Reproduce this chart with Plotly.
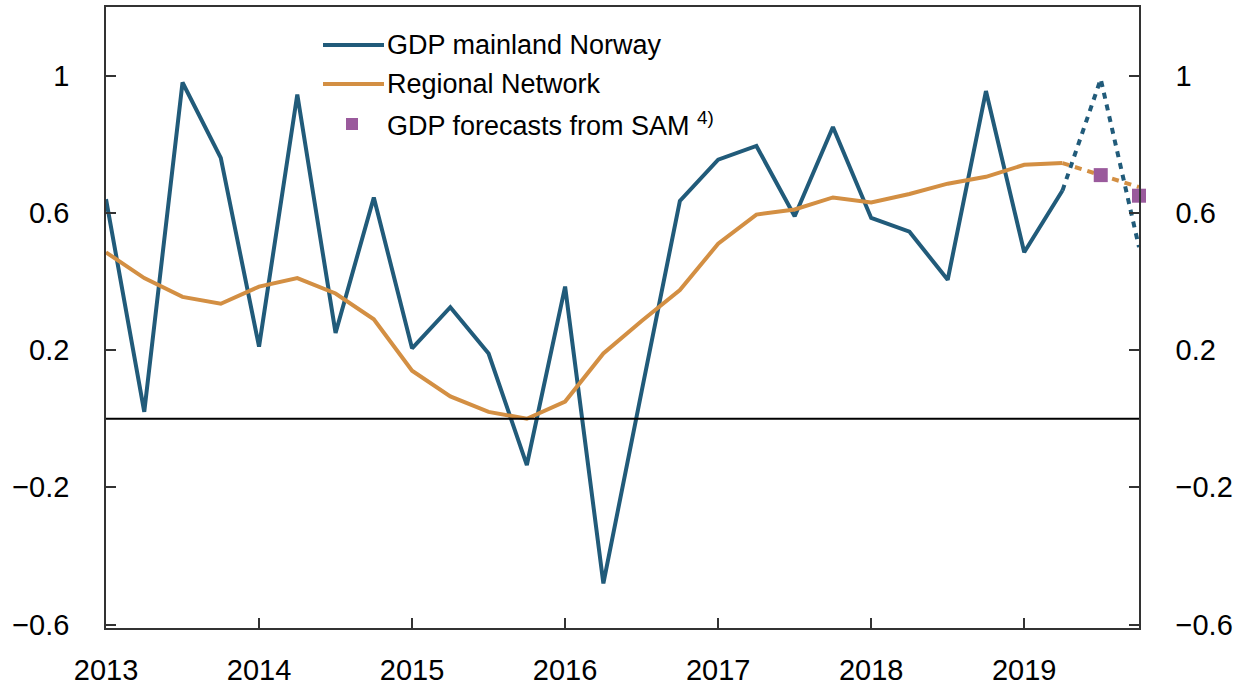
import plotly.graph_objects as go

years = [2013, 2014, 2015, 2016, 2017, 2018, 2019]
quarters = [y + q / 4 for y in range(2013, 2020) for q in range(4)]

gdp = [0.64, 0.02, 0.98, 0.76, 0.21, 0.945, 0.25, 0.645,
       0.205, 0.325, 0.19, -0.135, 0.385, -0.48, 0.08, 0.635,
       0.755, 0.795, 0.59, 0.85, 0.585, 0.545, 0.405, 0.955,
       0.485, 0.665]
gdp_fc = [0.665, 0.99, 0.50]

regional = [0.485, 0.41, 0.355, 0.335, 0.385, 0.41, 0.365, 0.29,
            0.14, 0.065, 0.02, 0.0, 0.05, 0.19, 0.285, 0.375,
            0.51, 0.595, 0.61, 0.645, 0.63, 0.655, 0.685, 0.705,
            0.74, 0.745]
regional_fc = [0.745, 0.71, 0.675]

sam = [0.71, 0.65]

ytick_vals = [-0.6, -0.2, 0.2, 0.6, 1.0]
ytick_text = ["\u22120.6", "\u22120.2", "0.2", "0.6", "1"]

BLUE = "#215b7a"
ORANGE = "#d38f43"
PURPLE = "#9a5a9c"
FONT = "Liberation Sans, Arial, sans-serif"

n_hist = len(gdp)
x_hist = quarters[:n_hist]
x_fc = quarters[n_hist - 1:n_hist - 1 + len(gdp_fc)]
x_sam = quarters[n_hist:n_hist + len(sam)]

fig = go.Figure()
fig.add_trace(go.Scatter(x=x_hist, y=gdp, mode="lines",
                         line=dict(color=BLUE, width=4), showlegend=False))
fig.add_trace(go.Scatter(x=x_hist, y=regional, mode="lines",
                         line=dict(color=ORANGE, width=4), showlegend=False))
fig.add_trace(go.Scatter(x=x_fc, y=gdp_fc, mode="lines",
                         line=dict(color=BLUE, width=4, dash="6px,6px"), showlegend=False))
fig.add_trace(go.Scatter(x=x_fc, y=regional_fc, mode="lines",
                         line=dict(color=ORANGE, width=4, dash="7px,6px"), showlegend=False))
fig.add_trace(go.Scatter(x=x_sam, y=sam, mode="markers",
                         marker=dict(color=PURPLE, size=14, symbol="square"),
                         showlegend=False, cliponaxis=False))
# invisible trace for right axis
fig.add_trace(go.Scatter(x=[quarters[0]], y=[0], yaxis="y2", mode="markers",
                         marker=dict(opacity=0), showlegend=False, hoverinfo="skip"))

W, H = 1237, 686
L, R, T, B = 106, 98, 7, 58
pw, ph = W - L - R, H - T - B

def px(x):
    return (x - L) / pw

def py(y):
    return (H - B - y) / ph

# zero line
fig.add_shape(type="line", xref="paper", yref="y", x0=0, x1=1, y0=0, y1=0,
              line=dict(color="black", width=2))

# custom legend
legend_items = [
    ("GDP mainland Norway", BLUE, 45, "line"),
    ("Regional Network", ORANGE, 84, "line"),
    ("GDP forecasts from SAM <sup>4)</sup>", PURPLE, 124, "square"),
]
for text, col, yy, kind in legend_items:
    if kind == "line":
        fig.add_shape(type="line", xref="paper", yref="paper",
                      x0=px(323), x1=px(384), y0=py(yy), y1=py(yy),
                      line=dict(color=col, width=4))
    else:
        fig.add_shape(type="rect", xref="paper", yref="paper",
                      x0=px(346), x1=px(358), y0=py(yy + 6), y1=py(yy - 6),
                      line=dict(width=0), fillcolor=col)
    fig.add_annotation(x=px(385), y=py(yy), xref="paper", yref="paper",
                       text=text, showarrow=False, xanchor="left", yanchor="middle",
                       font=dict(size=27, color="black", family=FONT))

axis_common = dict(showline=True, linecolor="#333333", linewidth=1.5, mirror=True,
                   ticks="inside", ticklen=10, tickcolor="#333333", tickwidth=1.5,
                   showgrid=False, zeroline=False, automargin=False,
                   tickfont=dict(size=29, color="black", family=FONT))

fig.update_layout(
    width=W, height=H,
    margin=dict(l=L, r=R, t=T, b=B, autoexpand=False),
    paper_bgcolor="white", plot_bgcolor="white",
    showlegend=False,
    xaxis=dict(range=[2013, 2019.75], tickvals=years,
               ticktext=[str(y) for y in years], ticklabelstandoff=15,
               **axis_common),
    yaxis=dict(range=[-0.61, 1.2], tickvals=ytick_vals, ticktext=ytick_text,
               ticklabelstandoff=29, **axis_common),
    yaxis2=dict(range=[-0.61, 1.2], tickvals=ytick_vals, ticktext=ytick_text,
                overlaying="y", side="right", ticklabelstandoff=29, **axis_common),
)

fig.write_html("out.html", config={"displayModeBar": False},
               post_script="document.body.style.margin='0';document.body.style.overflow='hidden';")
